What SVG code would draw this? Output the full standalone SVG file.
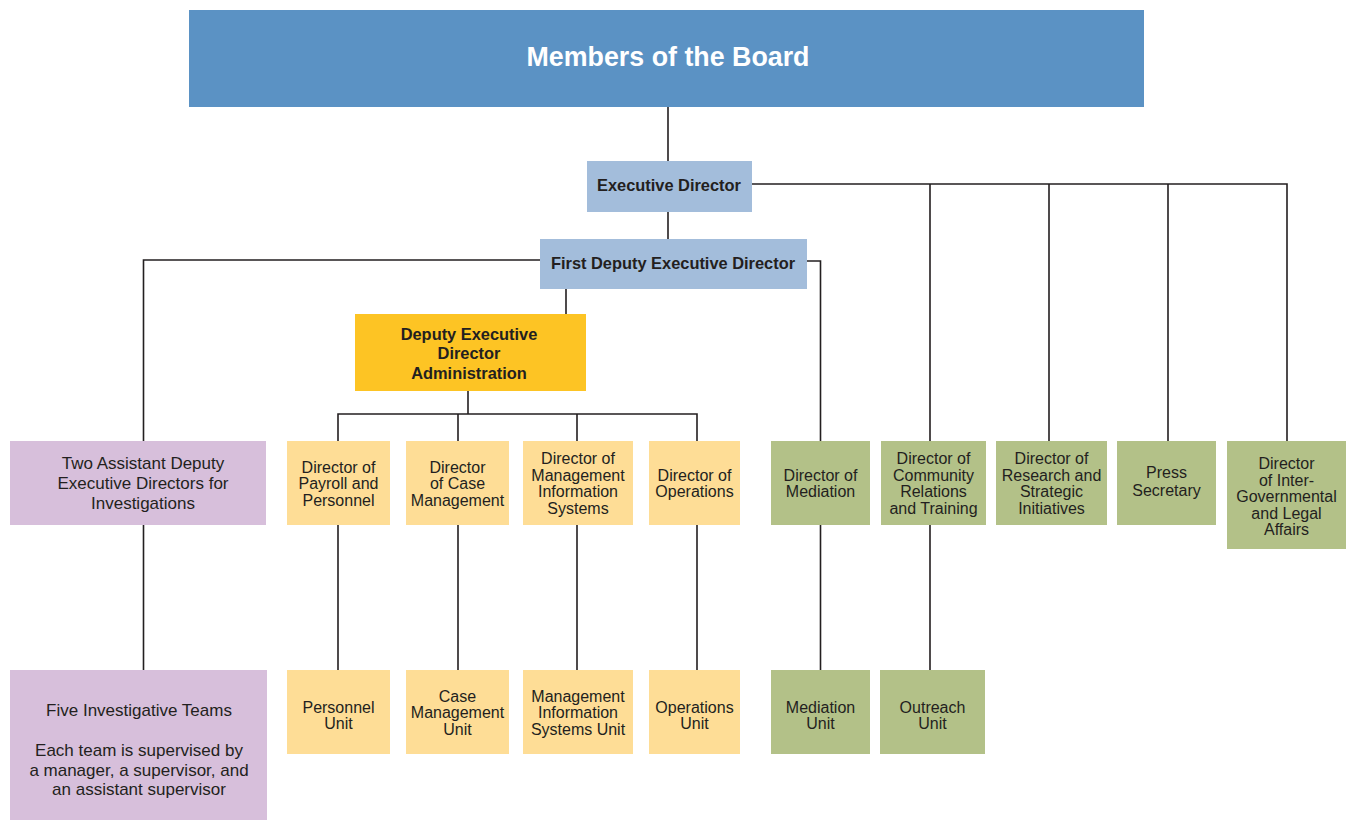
<svg xmlns="http://www.w3.org/2000/svg" width="1348" height="820" viewBox="0 0 1348 820">
<style>
text{font-family:"Liberation Sans",Arial,sans-serif;fill:#231f20;text-anchor:middle}
.b{font-weight:bold;font-size:16.4px}
.t{font-size:16px}
.p{font-size:17px}
.ln{stroke:#231f20;stroke-width:1.6;fill:none}
.blue{fill:#a3bddb}.dark{fill:#5b92c4}.gold{fill:#fdc424}.ylw{fill:#fedd96}.pur{fill:#d7bfdb}.grn{fill:#b3c188}
</style>
<rect width="1348" height="820" fill="#fff"/>
<g id="connectors" class="ln">
<path d="M668 107V161M668 212V239"/>
<path d="M752 184H1287V441M930 184V441M1049 184V441M1168 184V441"/>
<path d="M540 260H143.5V441M807 261H820.5V441"/>
<path d="M566 289V314M468 391V414M338 441V414H697V441M458 414V441M577 414V441"/>
<path d="M143.5 525V670M338 525V670M458 525V670M577 525V670M697 525V670M820.5 525V670M930 525V670"/>
</g>
<g id="board"><rect class="dark" x="189" y="10" width="955" height="97"/><text x="668" y="66" style="font-weight:bold;font-size:26.8px;fill:#fff">Members of the Board</text></g>
<g id="exec"><rect class="blue" x="587" y="161" width="165" height="51"/><text class="b" x="669" y="191">Executive Director</text></g>
<g id="fded"><rect class="blue" x="540" y="239" width="267" height="50"/><text class="b" x="673" y="269">First Deputy Executive Director</text></g>
<g id="deda"><rect class="gold" x="355" y="314" width="231" height="77"/><text class="b" x="469"><tspan x="469" y="340">Deputy Executive</tspan><tspan x="469" y="359">Director</tspan><tspan x="469" y="379">Administration</tspan></text></g>
<g id="asst"><rect class="pur" x="10" y="441" width="256" height="84"/><text class="p"><tspan x="143" y="469">Two Assistant Deputy</tspan><tspan x="143" y="489">Executive Directors for</tspan><tspan x="143" y="509">Investigations</tspan></text></g>
<g id="payroll"><rect class="ylw" x="287" y="441" width="103" height="84"/><text class="t"><tspan x="338.5" y="473">Director of</tspan><tspan x="338.5" y="489">Payroll and</tspan><tspan x="338.5" y="506">Personnel</tspan></text></g>
<g id="casedir"><rect class="ylw" x="406" y="441" width="103" height="84"/><text class="t"><tspan x="457.5" y="473">Director</tspan><tspan x="457.5" y="489">of Case</tspan><tspan x="457.5" y="506">Management</tspan></text></g>
<g id="misdir"><rect class="ylw" x="523" y="441" width="110" height="84"/><text class="t"><tspan x="578" y="464">Director of</tspan><tspan x="578" y="481">Management</tspan><tspan x="578" y="497">Information</tspan><tspan x="578" y="514">Systems</tspan></text></g>
<g id="opsdir"><rect class="ylw" x="649" y="441" width="91" height="84"/><text class="t"><tspan x="694.5" y="481">Director of</tspan><tspan x="694.5" y="497">Operations</tspan></text></g>
<g id="meddir"><rect class="grn" x="771" y="441" width="99" height="84"/><text class="t"><tspan x="820.5" y="481">Director of</tspan><tspan x="820.5" y="497">Mediation</tspan></text></g>
<g id="commdir"><rect class="grn" x="881" y="441" width="105" height="84"/><text class="t"><tspan x="933.5" y="464">Director of</tspan><tspan x="933.5" y="481">Community</tspan><tspan x="933.5" y="497">Relations</tspan><tspan x="933.5" y="514">and Training</tspan></text></g>
<g id="resdir"><rect class="grn" x="996" y="441" width="111" height="84"/><text class="t"><tspan x="1051.5" y="464">Director of</tspan><tspan x="1051.5" y="481">Research and</tspan><tspan x="1051.5" y="497">Strategic</tspan><tspan x="1051.5" y="514">Initiatives</tspan></text></g>
<g id="press"><rect class="grn" x="1117" y="441" width="99" height="84"/><text class="t"><tspan x="1166.5" y="478">Press</tspan><tspan x="1166.5" y="496">Secretary</tspan></text></g>
<g id="intergov"><rect class="grn" x="1227" y="441" width="119" height="108"/><text class="t"><tspan x="1286.5" y="469">Director</tspan><tspan x="1286.5" y="486">of Inter-</tspan><tspan x="1286.5" y="502">Governmental</tspan><tspan x="1286.5" y="519">and Legal</tspan><tspan x="1286.5" y="535">Affairs</tspan></text></g>
<g id="teams"><rect class="pur" x="10" y="670" width="257" height="150"/><text class="p"><tspan x="139" y="716">Five Investigative Teams</tspan><tspan x="139" y="756">Each team is supervised by</tspan><tspan x="139" y="776">a manager, a supervisor, and</tspan><tspan x="139" y="795">an assistant supervisor</tspan></text></g>
<g id="personnel"><rect class="ylw" x="287" y="670" width="103" height="84"/><text class="t"><tspan x="338.5" y="713">Personnel</tspan><tspan x="338.5" y="729">Unit</tspan></text></g>
<g id="caseunit"><rect class="ylw" x="406" y="670" width="103" height="84"/><text class="t"><tspan x="457.5" y="702">Case</tspan><tspan x="457.5" y="718">Management</tspan><tspan x="457.5" y="735">Unit</tspan></text></g>
<g id="misunit"><rect class="ylw" x="523" y="670" width="110" height="84"/><text class="t"><tspan x="578" y="702">Management</tspan><tspan x="578" y="718">Information</tspan><tspan x="578" y="735">Systems Unit</tspan></text></g>
<g id="opsunit"><rect class="ylw" x="649" y="670" width="91" height="84"/><text class="t"><tspan x="694.5" y="713">Operations</tspan><tspan x="694.5" y="729">Unit</tspan></text></g>
<g id="medunit"><rect class="grn" x="771" y="670" width="99" height="84"/><text class="t"><tspan x="820.5" y="713">Mediation</tspan><tspan x="820.5" y="729">Unit</tspan></text></g>
<g id="outreach"><rect class="grn" x="880" y="670" width="105" height="84"/><text class="t"><tspan x="932.5" y="713">Outreach</tspan><tspan x="932.5" y="729">Unit</tspan></text></g>
</svg>
